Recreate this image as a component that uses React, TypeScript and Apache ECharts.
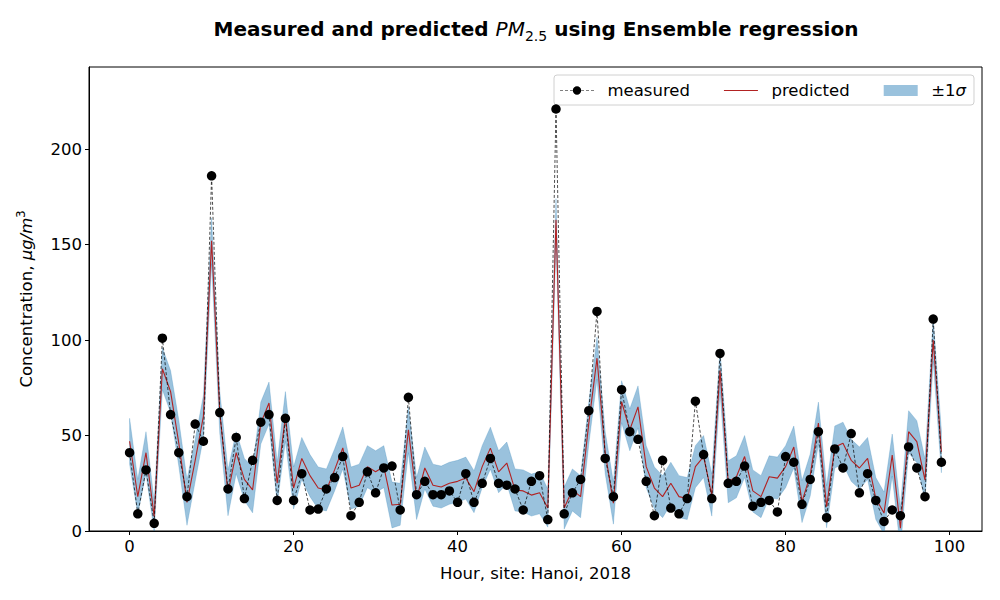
import React, { useEffect, useRef } from "react";
import * as echarts from "echarts";

const hours: number[] = Array.from({ length: 100 }, (_, i) => i);

const measured: number[] = [
  41, 9, 32, 4, 101, 61, 41, 18, 56, 47,
  186, 62, 22, 49, 17, 37, 57, 61, 16, 59,
  16, 30, 11, 11.5, 22, 28, 39, 8, 15, 31,
  20, 33, 34, 11, 70, 19, 26, 19, 19, 21,
  15, 30, 15, 25, 38, 25, 24, 22, 11, 26,
  29, 6, 221, 9, 20, 27, 63, 115, 38, 18,
  74, 52, 48, 26, 8, 37, 12, 9, 17, 68,
  40, 17, 93, 25, 26, 34, 13, 15, 16, 10,
  39, 36, 14, 27, 52, 7, 43, 33, 51, 20,
  30, 16, 5, 11, 8, 44, 33, 18, 111, 36,
];

const predicted: number[] = [
  47, 18, 41, 7.5, 85, 73, 46, 15, 37, 60,
  152, 62, 20, 41, 27, 21.5, 56.5, 67, 25, 60,
  22.5, 38, 29, 22.5, 21.5, 32, 43.5, 22.5, 24, 33.7,
  31, 33.7, 13.6, 14, 53, 17, 33, 24, 23, 25,
  26, 27.7, 20.6, 33.7, 43.4, 31, 35.6, 21.5, 21, 18.8,
  20, 12, 163, 12, 21.5, 18, 56.5, 90.5, 41, 14.6,
  67.7, 53, 65, 33.7, 22.5, 18, 25, 18, 17, 33.7,
  39, 18.8, 84, 25.8, 28.4, 39, 21, 18, 28.4, 27.7,
  33.7, 44, 15.4, 29.3, 56.5, 12.7, 44, 46, 37, 33,
  38, 17, 9.4, 39.8, 1.5, 52, 46.8, 26.7, 100, 41.5,
];

const sigma: number[] = [
  12, 9, 11, 8, 11, 11, 12, 12, 11, 11,
  12, 11, 12, 11, 11, 12, 11, 11, 11, 13,
  11, 11, 11, 11, 11, 11, 11, 11, 11, 11,
  11, 11, 12, 11, 12, 11, 11, 11, 11, 11,
  11, 11, 11, 11, 11, 11, 11, 11, 11, 11,
  11, 10, 11, 11, 11, 11, 11, 11, 11, 11,
  11, 11, 11, 11, 11, 11, 11, 11, 11, 11,
  11, 11, 11, 11, 11, 11, 11, 11, 11, 11,
  11, 11, 11, 11, 11, 11, 11, 11, 11, 11,
  11, 11, 11, 11, 11, 11, 11, 11, 11, 11,
];

const xTicks: number[] = [0, 20, 40, 60, 80, 100];
const yTicks: number[] = [0, 50, 100, 150, 200];

const FONT = "DejaVu Sans";
const BAND = "rgba(31,119,180,0.45)";
const RED = "#b22222";

// legend icons: thin line for "predicted"; dashed line + dot for "measured"
const ICON_PRED = "path://M0,0H34V1.2H0Z";
const ICON_MEAS =
  "path://M0,4.2H3V4.9H0Z M5,4.2H8V4.9H5Z M10,4.2H13V4.9H10Z M21,4.2H24V4.9H21Z M26,4.2H29V4.9H26Z M31,4.2H34V4.9H31Z M12.8,4.55A4.2,4.2,0,1,0,21.2,4.55A4.2,4.2,0,1,0,12.8,4.55Z";

export default function App() {
  const ref = useRef<HTMLDivElement>(null);

  useEffect(() => {
    if (!ref.current) return;
    const chart = echarts.init(ref.current, null, { renderer: "svg" });

    const bandData = hours.map((h, i) => [h, predicted[i] - sigma[i], predicted[i] + sigma[i]]);

    chart.setOption({
      animation: false,
      backgroundColor: "#ffffff",
      textStyle: { fontFamily: FONT },
      graphic: [
        {
          type: "text",
          x: 536,
          y: 29,
          style: {
            text: "{b|Measured and predicted }{i|PM}{s|2.5}{b| using Ensemble regression}",
            align: "center",
            verticalAlign: "middle",
            fill: "#000",
            rich: {
              b: { fontFamily: FONT, fontWeight: "bold", fontSize: 20, lineHeight: 27, fill: "#000" },
              i: { fontFamily: FONT, fontStyle: "italic", fontSize: 20, lineHeight: 27, fill: "#000" },
              s: { fontFamily: FONT, fontSize: 14, lineHeight: 14, verticalAlign: "bottom", fill: "#000" },
            },
          },
        },
      ],
      grid: {
        left: 89,
        right: 18,
        top: 67,
        bottom: 69,
        show: true,
        borderColor: "#000",
        borderWidth: 1,
        backgroundColor: "transparent",
      },
      legend: {
        left: 554,
        top: 75,
        data: [
          { name: "measured", icon: ICON_MEAS, itemStyle: { color: "#000" } },
          { name: "predicted", icon: ICON_PRED, itemStyle: { color: RED } },
          { name: "±1σ", icon: "rect", itemStyle: { color: BAND } },
        ],
        orient: "horizontal",
        itemWidth: 34,
        itemHeight: 11,
        itemGap: 34,
        padding: [7, 8, 6, 6],
        borderColor: "#d0d0d0",
        borderWidth: 1,
        borderRadius: 3,
        backgroundColor: "rgba(255,255,255,0.8)",
        textStyle: {
          fontFamily: FONT,
          fontSize: 16.5,
          color: "#000",
          padding: [0, 0, 0, 8.5],
          rich: {
            i: { fontFamily: FONT, fontStyle: "italic", fontSize: 16.5, color: "#000" },
          },
        },
        formatter: (name: string) => (name === "±1σ" ? "±1{i|σ}" : name),
      },
      xAxis: {
        type: "value",
        min: -4.95,
        max: 103.95,
        name: "Hour, site: Hanoi, 2018",
        nameLocation: "middle",
        nameGap: 34,
        nameTextStyle: { fontFamily: FONT, fontSize: 16.5, color: "#000" },
        axisLine: { show: true, onZero: false, lineStyle: { color: "#000", width: 1 } },
        axisTick: { show: true, length: 4, lineStyle: { color: "#000" }, customValues: xTicks },
        axisLabel: { fontFamily: FONT, fontSize: 16.5, color: "#000", margin: 7, customValues: xTicks },
        splitLine: { show: false },
      },
      yAxis: {
        type: "value",
        min: 0,
        max: 243,
        name: "Concentration, {i|μg/m}{s|3}",
        nameLocation: "middle",
        nameRotate: 90,
        nameGap: 52,
        nameTextStyle: {
          fontFamily: FONT,
          fontSize: 16.5,
          color: "#000",
          lineHeight: 22,
          rich: {
            i: { fontFamily: FONT, fontStyle: "italic", fontSize: 16.5, color: "#000", lineHeight: 22 },
            s: { fontFamily: FONT, fontSize: 11.5, color: "#000", lineHeight: 12, verticalAlign: "top" },
          },
        },
        axisLine: { show: true, onZero: false, lineStyle: { color: "#000", width: 1 } },
        axisTick: { show: true, length: 4, lineStyle: { color: "#000" }, customValues: yTicks },
        axisLabel: { fontFamily: FONT, fontSize: 16.5, color: "#000", margin: 7, customValues: yTicks },
        splitLine: { show: false },
      },
      series: [
        {
          name: "±1σ",
          type: "custom",
          data: bandData,
          encode: { x: 0, y: [1, 2] },
          itemStyle: { color: BAND },
          z: 1,
          renderItem: (params: any, api: any) => {
            if (params.dataIndex !== 0) return null;
            const upperPts: number[][] = [];
            const lowerPts: number[][] = [];
            for (let i = 0; i < bandData.length; i++) {
              const d = bandData[i];
              upperPts.push(api.coord([d[0], d[2]]));
              lowerPts.push(api.coord([d[0], d[1]]));
            }
            const pts = upperPts.concat(lowerPts.reverse());
            const cs = params.coordSys;
            return {
              type: "polygon",
              shape: { points: pts },
              style: { fill: BAND, stroke: BAND, lineWidth: 0.5 },
              clipPath: {
                type: "rect",
                shape: { x: cs.x, y: cs.y, width: cs.width, height: cs.height },
              },
            };
          },
        },
        {
          name: "predicted",
          type: "line",
          data: hours.map((h, i) => [h, predicted[i]]),
          symbol: "none",
          color: RED,
          lineStyle: { color: RED, width: 1.1 },
          itemStyle: { color: RED },
          z: 3,
        },
        {
          name: "measured",
          type: "line",
          data: hours.map((h, i) => [h, measured[i]]),
          symbol: "circle",
          symbolSize: 9.5,
          color: "#000",
          lineStyle: { color: "#000", width: 0.7, type: [3, 2] },
          itemStyle: { color: "#000" },
          z: 4,
        },
      ],
    });

    return () => chart.dispose();
  }, []);

  return (
    <div
      ref={ref}
      style={{ position: "fixed", left: 0, top: 0, width: 1000, height: 600, background: "#fff" }}
    />
  );
}
